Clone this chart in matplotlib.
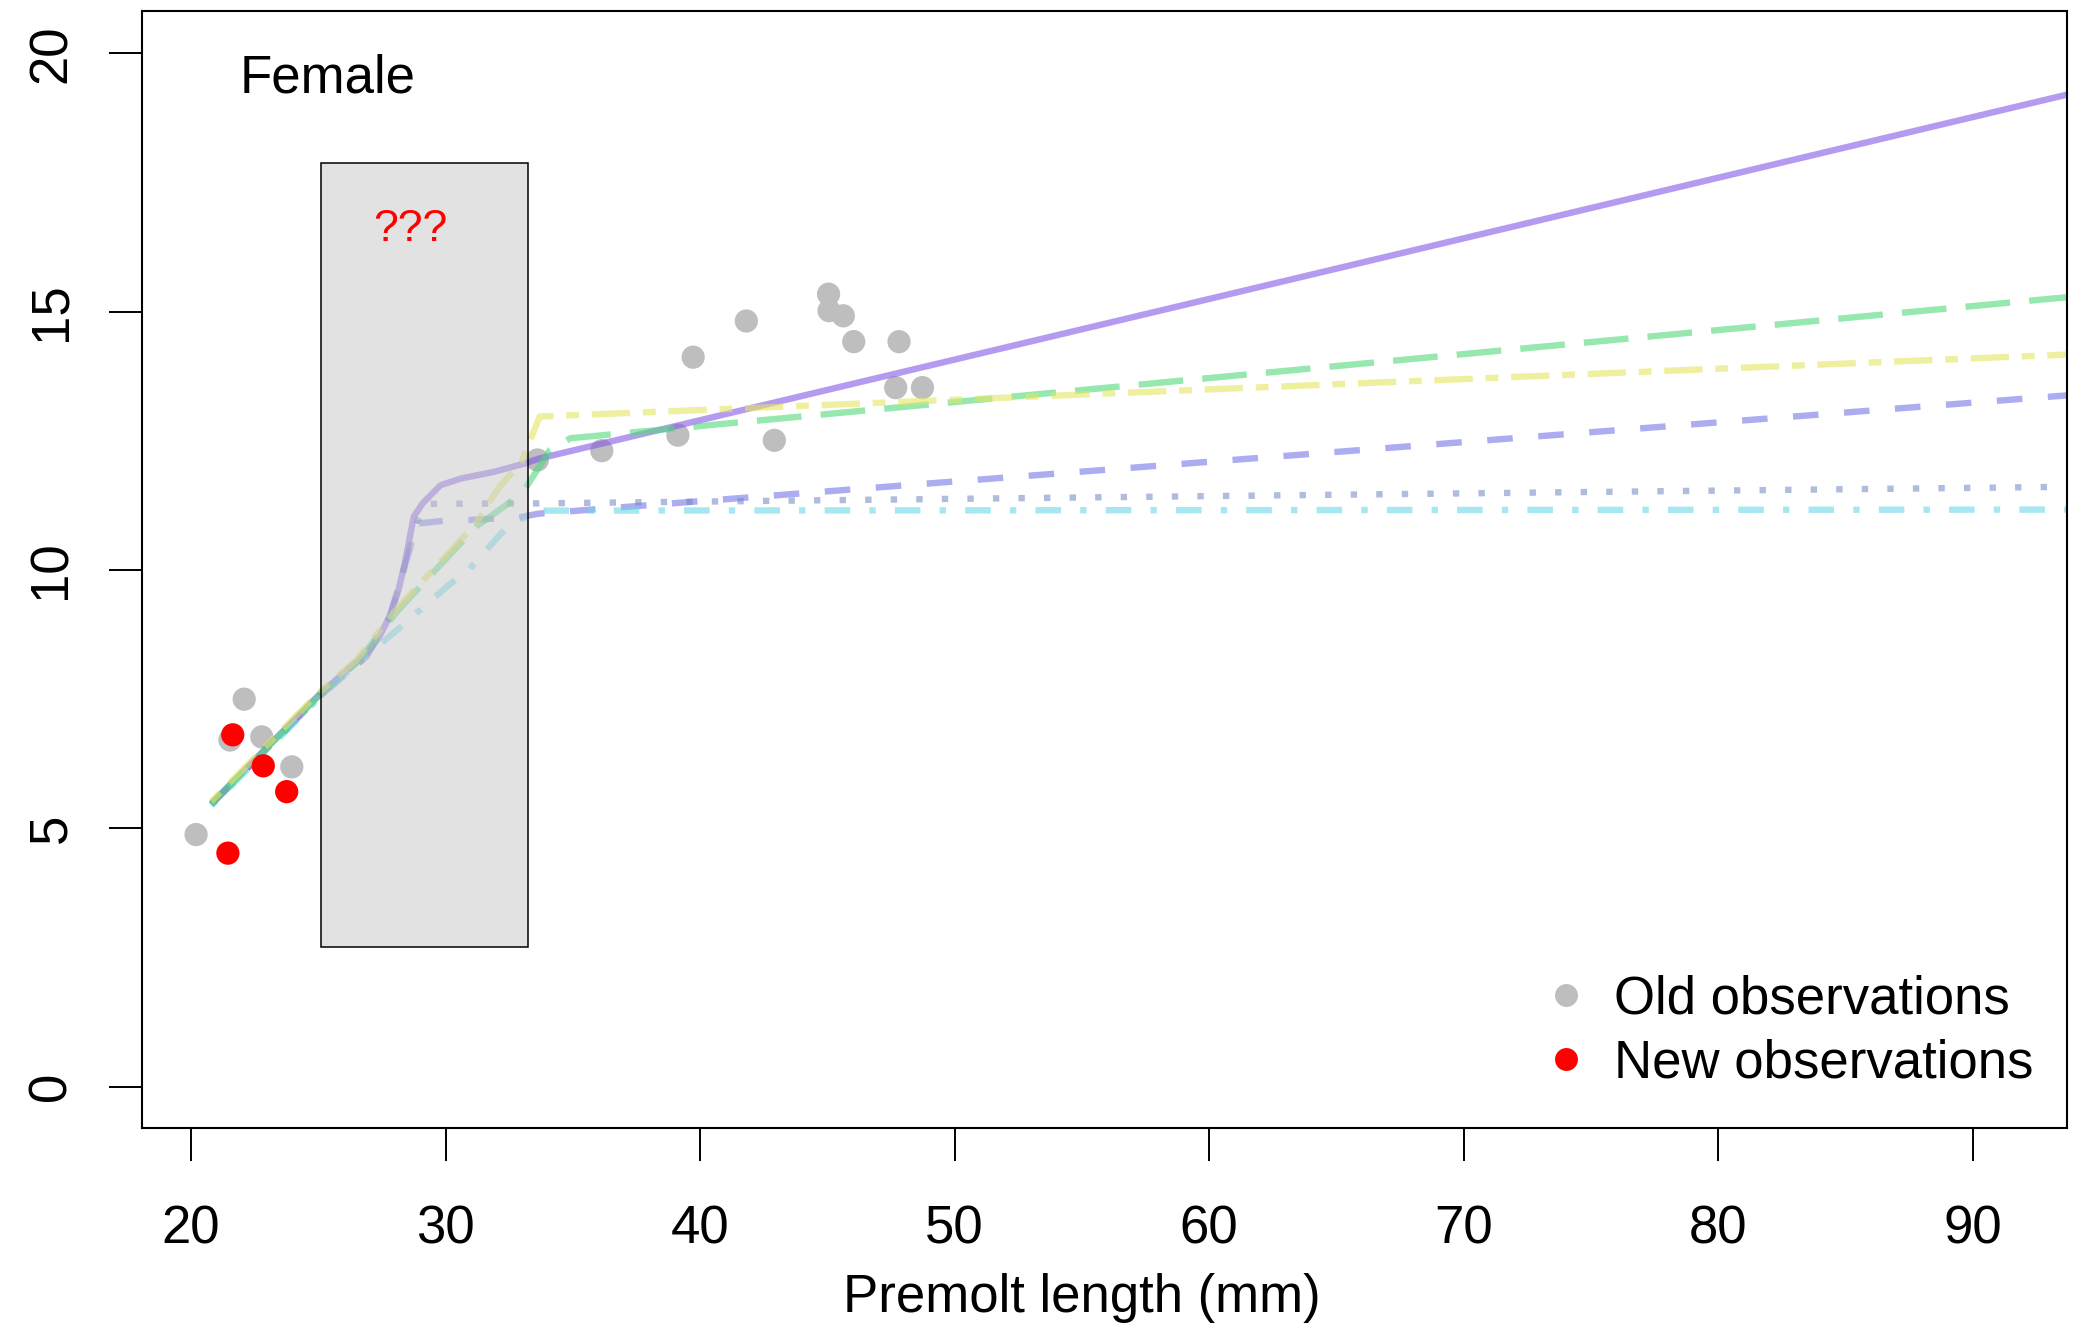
import numpy as np
import matplotlib
matplotlib.use('Agg')
import matplotlib.pyplot as plt
from matplotlib.patches import Rectangle
from matplotlib.lines import Line2D

plt.rcParams['font.family'] = ['Liberation Sans', 'DejaVu Sans']

# old observations (grey)
old_x = [20.2, 22.09, 21.53, 22.78, 23.96, 33.61, 36.14, 39.13, 39.73, 41.82, 42.92,
         45.05, 45.07, 45.63, 46.04, 47.82, 47.69, 48.74]
old_y = [4.88, 7.50, 6.71, 6.77, 6.19, 12.13, 12.31, 12.61, 14.12, 14.82, 12.51,
         15.34, 15.02, 14.92, 14.42, 14.42, 13.53, 13.53]

# new observations (red)
new_x = [21.64, 22.84, 23.76, 21.45]
new_y = [6.81, 6.21, 5.71, 4.52]

# model curves
solid_x = [20.8, 25.1, 26.9, 27.4, 27.8, 28.15, 28.4, 28.6, 28.75, 29.1, 29.8, 30.6, 31.9, 33.1, 33.7, 93.7]
solid_y = [5.48, 7.62, 8.39, 8.71, 9.10, 9.61, 10.13, 10.64, 11.03, 11.29, 11.64, 11.77, 11.90, 12.06, 12.16, 19.2]

dashed_x = [20.8, 25.1, 26.9, 27.8, 28.4, 28.9, 29.9, 31.0, 32.9, 33.65, 93.7]
dashed_y = [5.46, 7.58, 8.33, 9.08, 10.08, 10.9, 10.95, 10.97, 11.02, 11.09, 13.38]

dotted_x = [20.8, 25.1, 26.9, 27.8, 28.4, 28.9, 29.3, 33.6, 93.7]
dotted_y = [5.46, 7.58, 8.33, 9.08, 10.08, 10.95, 11.28, 11.29, 11.61]

dotdash_x = [20.8, 25.1, 26.5, 28.1, 30.2, 30.8, 32.3, 32.9, 33.7, 93.7]
dotdash_y = [5.44, 7.56, 8.18, 8.84, 9.74, 9.94, 10.77, 10.97, 11.15, 11.17]

longdash_x = [20.8, 25.1, 26.5, 28.1, 31.2, 32.5, 33.1, 34.1, 34.9, 39.0, 93.7]
longdash_y = [5.48, 7.6, 8.2, 9.2, 10.84, 11.3, 11.55, 12.32, 12.55, 12.74, 15.28]

twodash_x = [20.8, 25.1, 26.5, 28.1, 31.2, 32.1, 33.0, 33.4, 33.7, 93.7]
twodash_y = [5.52, 7.66, 8.26, 9.26, 10.9, 11.6, 12.1, 12.6, 12.97, 14.17]

fig = plt.figure(figsize=(20.78, 13.3), dpi=100)
ax = fig.add_axes([142/2078, 202/1330, 1925/2078, 1117/1330])

ax.scatter(old_x, old_y, s=280, color='#bebebe', edgecolors='none', zorder=1)

lw = 4.6
ax.plot(solid_x, solid_y, color='#8258e6', alpha=0.6, lw=lw, zorder=2, solid_capstyle='butt')
ax.plot(dashed_x, dashed_y, color='#5a5ae2', alpha=0.5, lw=lw, dashes=(4, 4), zorder=2)
ax.plot(dotted_x, dotted_y, color='#6f86c4', alpha=0.55, lw=lw, dashes=(1, 3), zorder=2)
ax.plot(dotdash_x, dotdash_y, color='#69d9e9', alpha=0.6, lw=lw, dashes=(1, 3, 4, 3), zorder=2)
ax.plot(longdash_x, longdash_y, color='#50d97a', alpha=0.6, lw=lw, dashes=(7, 3), zorder=2)
ax.plot(twodash_x, twodash_y, color='#e3e661', alpha=0.6, lw=lw, dashes=(2, 2, 6, 2), zorder=2)

ax.scatter(new_x, new_y, s=280, color='#ff0000', edgecolors='none', zorder=3)

# shaded box with unknown region
ax.add_patch(Rectangle((25.1, 2.7), 8.15, 15.17, facecolor=(0.78, 0.78, 0.78, 0.5),
                       edgecolor='black', lw=1.1, zorder=4))
ax.text(28.63, 16.6, '???', color='red', fontsize=32, ha='center', va='center', zorder=5)

ax.text(21.93, 19.52, 'Female', fontsize=38, ha='left', va='center')

ax.set_xlim(18.075, 93.71)
ax.set_ylim(-0.8, 20.82)
ax.set_xticks([20, 30, 40, 50, 60, 70, 80, 90])
ax.set_yticks([0, 5, 10, 15, 20])
ax.tick_params(axis='x', direction='out', length=24, width=1.4, pad=31, labelsize=38)
ax.tick_params(axis='y', direction='out', length=24, width=1.4, pad=23, labelsize=38)
for lab in ax.get_yticklabels():
    lab.set_rotation(90)
    lab.set_va('center')
for sp in ax.spines.values():
    sp.set_linewidth(1.5)

ax.set_xlabel('Premolt length (mm)', fontsize=38)
ax.xaxis.label.set_va('center')
ax.xaxis.set_label_coords(0.488, -0.152)

handles = [Line2D([], [], marker='o', ls='none', color='#bebebe', markersize=16.5, markeredgewidth=0),
           Line2D([], [], marker='o', ls='none', color='#ff0000', markersize=16.5, markeredgewidth=0)]
ax.legend(handles, ['Old observations', 'New observations'], loc='center left',
          bbox_to_anchor=(0.729, 0.0864), frameon=False, fontsize=38, handlelength=0.8,
          handletextpad=0.5, borderpad=0, borderaxespad=0, labelspacing=0.25)

fig.savefig('out.png', dpi=100)
